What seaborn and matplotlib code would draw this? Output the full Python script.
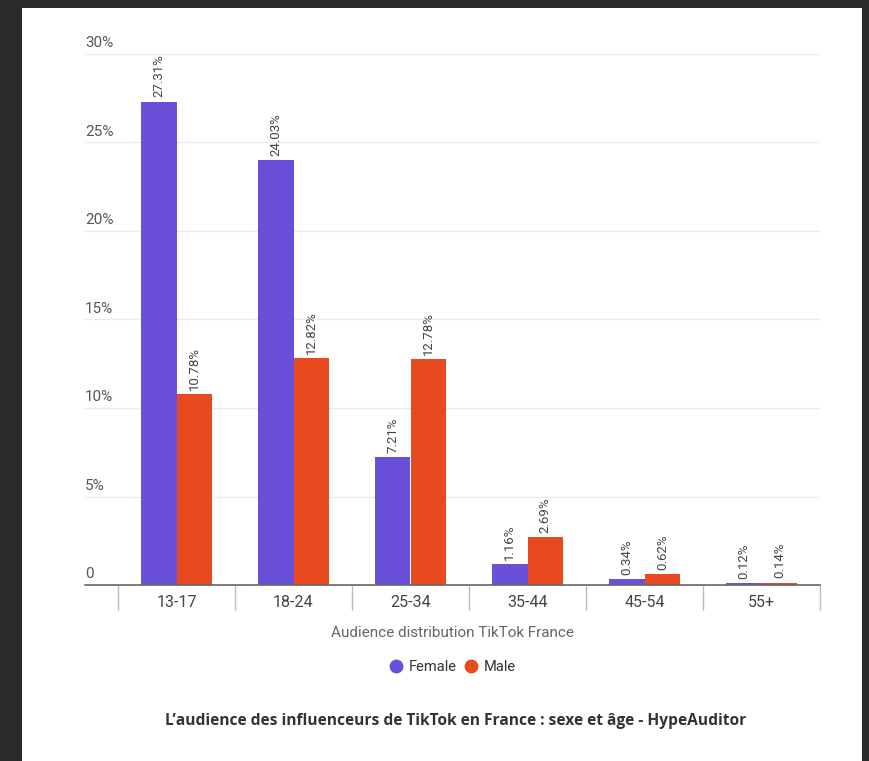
import matplotlib
matplotlib.use('Agg')
import matplotlib.pyplot as plt
from matplotlib.patches import Rectangle
from matplotlib.lines import Line2D
import matplotlib.transforms as mtransforms
import seaborn as sns
import pandas as pd
import numpy as np

# data
AGE_GROUPS = ['13-17', '18-24', '25-34', '35-44', '45-54', '55+']
FEMALE = [27.31, 24.03, 7.21, 1.16, 0.34, 0.12]
MALE = [10.78, 12.82, 12.78, 2.69, 0.62, 0.14]
SERIES = ['Female', 'Male']
Y_TICKS = [0, 5, 10, 15, 20, 25, 30]
Y_TICK_LABELS = ['0', '5%', '10%', '15%', '20%', '25%', '30%']

COLORS = {'Female': '#6a4fd9', 'Male': '#e64a1e'}
BG_DARK = '#2a2a2a'

df = pd.DataFrame({
    'age': AGE_GROUPS * 2,
    'pct': FEMALE + MALE,
    'sex': ['Female'] * len(AGE_GROUPS) + ['Male'] * len(AGE_GROUPS),
})

sns.set_theme(style='white')
plt.rcParams['font.family'] = ['Roboto', 'DejaVu Sans']

W, H = 869, 761
fig = plt.figure(figsize=(W / 100, H / 100), dpi=100)
fig.patch.set_facecolor(BG_DARK)
fig.patches.append(Rectangle((22 / W, 0), (862 - 22) / W, (H - 8) / H,
                             transform=fig.transFigure, facecolor='white',
                             edgecolor='none', zorder=-10))

# axes spans x 85..820 px, y 54..585 px
ax_left, ax_right = 85, 820
ax_top, ax_bottom = 54, 585
ax = fig.add_axes([ax_left / W, 1 - ax_bottom / H,
                   (ax_right - ax_left) / W, (ax_bottom - ax_top) / H])
ax.set_facecolor('none')
ax.set_zorder(2)

sns.barplot(data=df, x='age', y='pct', hue='sex', order=AGE_GROUPS,
            hue_order=SERIES, palette=COLORS, width=0.61, gap=0.0,
            saturation=1, legend=False, ax=ax, zorder=3, linewidth=0)

for bars, vals in zip(ax.containers, [FEMALE, MALE]):
    ax.bar_label(bars, labels=[f'{v:.2f}%' for v in vals], rotation=90,
                 padding=3, fontsize=9.5, color='#444444', zorder=4)

# category span: 117 px per category starting at x=118
cat_px = (820 - 118) / len(AGE_GROUPS)
ax.set_xlim(-0.5 - (118 - ax_left) / cat_px, len(AGE_GROUPS) - 0.5)
ax.set_ylim(0, 30)

for y in Y_TICKS[1:]:
    ax.axhline(y, color='#ebebeb', linewidth=1, zorder=1)
trans = mtransforms.blended_transform_factory(ax.transAxes, ax.transData)
for y, lab in zip(Y_TICKS, Y_TICK_LABELS):
    ax.text(0, y + 0.2, lab, transform=trans, ha='left', va='bottom',
            fontsize=11, color='#555555')
ax.set_yticks([])

for s in ['top', 'right', 'left']:
    ax.spines[s].set_visible(False)
ax.spines['bottom'].set_color('#666666')
ax.spines['bottom'].set_linewidth(1.2)
ax.spines['bottom'].set_zorder(5)

ax.set_xticks(range(len(AGE_GROUPS)))
ax.set_xticklabels(AGE_GROUPS, fontsize=11.5, color='#444444')
ax.tick_params(axis='x', which='major', length=0, pad=7)
ax.set_xticks(np.arange(-0.5, len(AGE_GROUPS)), minor=True)
ax.tick_params(axis='x', which='minor', length=18, width=1, color='#bbbbbb',
               direction='out', bottom=True)
ax.set_xlabel('Audience distribution TikTok France', fontsize=11,
              color='#666666', labelpad=8)
ax.set_ylabel('')

handles = [Line2D([0], [0], marker='o', linestyle='none', markersize=10,
                  markerfacecolor=COLORS[s], markeredgecolor='none', label=s)
           for s in SERIES]
fig.legend(handles=handles, loc='center', ncol=2, frameon=False,
           bbox_to_anchor=(452 / W, 1 - 667 / H), fontsize=10.5,
           handletextpad=0.35, columnspacing=0.5, handlelength=1.0,
           labelcolor='#333333')

fig.text(456 / W, 1 - 721 / H,
         "L\u2019audience des influenceurs de TikTok en France : sexe et \u00e2ge - HypeAuditor",
         ha='center', va='center', fontsize=11.2, fontweight='bold',
         color='#333333', family=['Open Sans', 'DejaVu Sans'])

fig.savefig('out.png', dpi=100, facecolor=fig.get_facecolor())
